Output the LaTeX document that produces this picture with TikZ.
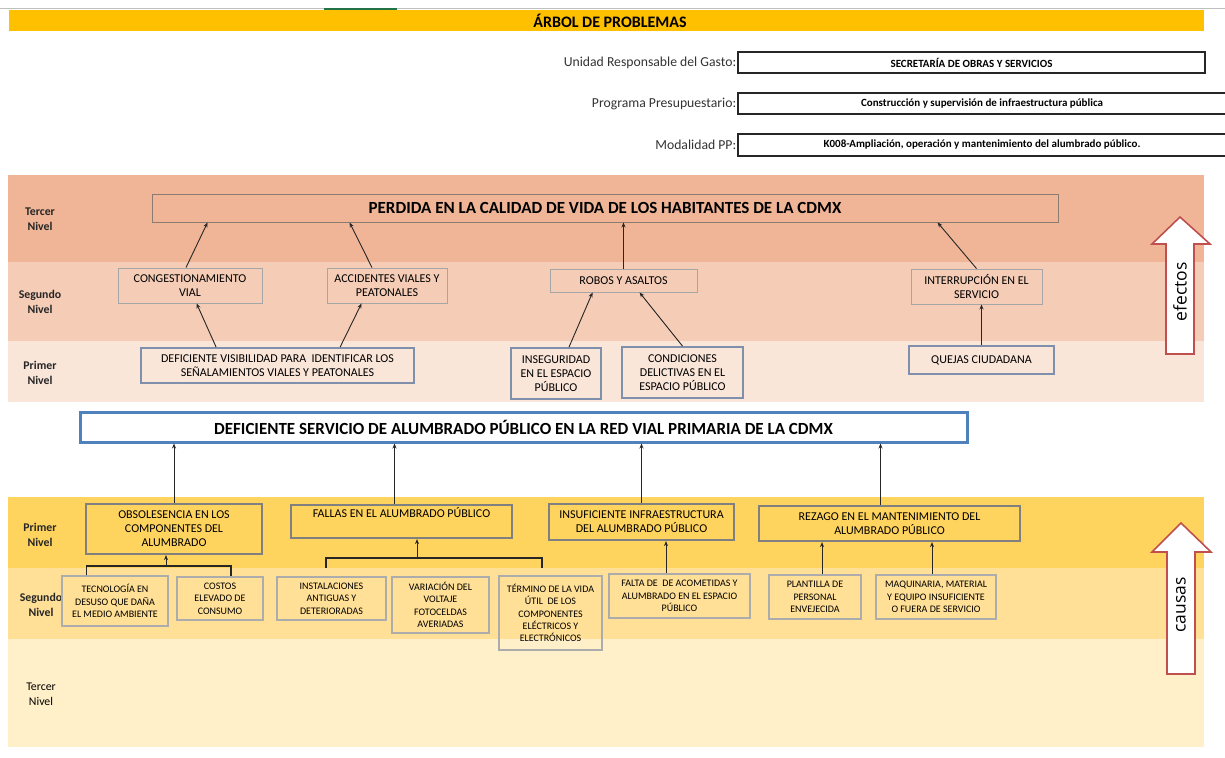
\documentclass[tikz,border=0pt]{standalone}
\usepackage{fontspec}
\setmainfont{Carlito}
\newfontfamily\flecha{Open Sans}
\usetikzlibrary{arrows.meta}
\definecolor{oro}{HTML}{FFC000}
\definecolor{verde}{HTML}{217346}
\definecolor{efTres}{HTML}{F0B597}
\definecolor{efDos}{HTML}{F5CCB6}
\definecolor{efUno}{HTML}{FAE5D9}
\definecolor{caUno}{HTML}{FFD45E}
\definecolor{caDos}{HTML}{FFE096}
\definecolor{caTres}{HTML}{FFF0CA}
\definecolor{azul}{HTML}{4F81BD}
\definecolor{bordeAzul}{HTML}{7E90AC}
\definecolor{cafe}{HTML}{8B7B70}
\definecolor{rojo}{HTML}{C0504D}

\begin{document}
\begin{tikzpicture}[x=1pt,y=-1pt,>={Stealth[length=5pt,width=4pt]},
    nivel/.style={align=center,font=\fontsize{11.8}{15}\selectfont\bfseries,text=black!85},
    campo/.style={anchor=east,inner sep=1pt,font=\fontsize{13.7}{16}\selectfont,text=black!80},
    dato/.style={draw=black!85,line width=1.2pt,inner sep=0pt,font=\fontsize{11}{12}\selectfont\bfseries},
    efecto/.style={draw=gray!70,line width=0.9pt,inner sep=0pt,align=center,font=\fontsize{12}{14}\selectfont},
    efectoA/.style={efecto,draw=bordeAzul,line width=1.8pt},
    causa/.style={draw=gray,line width=2.2pt,inner sep=0pt,align=center,font=\fontsize{12}{14}\selectfont},
    subcausa/.style={draw=gray!65,line width=1.1pt,inner sep=0pt,align=center,font=\fontsize{10}{12.3}\selectfont},
    flechota/.style={draw=rojo,line width=1.6pt,fill=white,line join=miter},
    conector/.style={->,line width=0.9pt,black!85},
    llave/.style={line width=1.3pt,black!85}]
        \useasboundingbox(0,0)rectangle(1225,757);
        \draw[gray!50,line width=0.8pt](0,8.5)--(1225,8.5);
        \draw[verde,line width=2pt](324,9)--(397,9);
        \fill[oro](9,10)rectangle(1204,31);
        \fill[efTres](8,175)rectangle(1204,262);
        \fill[efDos](8,262)rectangle(1204,341);
        \fill[efUno](8,341)rectangle(1204,402);
        \fill[caUno](8,497)rectangle(1204,568);
        \fill[caDos](8,568)rectangle(1204,639);
        \fill[caTres](8,639)rectangle(1204,747);
        \node(titulo)at(610,20.5)[font=\fontsize{16}{17}\selectfont\bfseries]{ÁRBOL DE PROBLEMAS};
        \node(ur)at(971.5,62.5)[dato,minimum width=467,minimum height=21]{SECRETARÍA DE OBRAS Y SERVICIOS};
        \node(urtxt)at(ur.west)[campo]{Unidad Responsable del Gasto:};
        \node(pp)at(982,103.5)[dato,minimum width=488,minimum height=21]{Construcción y supervisión de infraestructura pública};
        \node(pptxt)at(pp.west)[campo]{Programa Presupuestario:};
        \node(mod)at(982,145)[dato,minimum width=488,minimum height=22]{K008-Ampliación, operación y mantenimiento del alumbrado público.};
        \node(modtxt)at(mod.west)[campo]{Modalidad PP:};
        \node(et)at(40,219.5)[nivel]{Tercer\\Nivel};
        \node(es)at(40,302)[nivel]{Segundo\\Nivel};
        \node(ep)at(40,372.5)[nivel]{Primer\\Nivel};
        \node(cp)at(40,534.5)[nivel]{Primer\\Nivel};
        \node(cs)at(41,604.5)[nivel]{Segundo\\Nivel};
        \node(ct)at(41,694.5)[nivel,text=black,font=\fontsize{11.8}{15}\selectfont]{Tercer\\Nivel};
        \node(perdida)at(605,208)[efecto,draw=cafe,minimum width=906,minimum height=28,font=\fontsize{17}{18}\selectfont\bfseries]{PERDIDA EN LA CALIDAD DE VIDA DE LOS HABITANTES DE LA CDMX};
        \node(cong)at(190,285.5)[efecto,minimum width=144,minimum height=35]{CONGESTIONAMIENTO\\VIAL};
        \node(acc)at(387,285.5)[efecto,minimum width=120,minimum height=35]{ACCIDENTES VIALES Y\\PEATONALES};
        \node(robos)at(623.5,280.5)[efecto,minimum width=147,minimum height=23]{ROBOS Y ASALTOS};
        \node(interr)at(976.5,286.5)[efecto,minimum width=131,minimum height=35]{INTERRUPCIÓN EN EL\\SERVICIO};
        \node(defic)at(277.5,365.5)[efectoA,minimum width=273,minimum height=35]{DEFICIENTE VISIBILIDAD PARA\ \ IDENTIFICAR LOS\\SEÑALAMIENTOS VIALES Y PEATONALES};
        \node(inseg)at(556,373.5)[efectoA,minimum width=90,minimum height=51]{INSEGURIDAD\\EN EL ESPACIO\\PÚBLICO};
        \node(condic)at(682.5,372.5)[efectoA,minimum width=121,minimum height=51]{CONDICIONES\\DELICTIVAS EN EL\\ESPACIO PÚBLICO};
        \node(quejas)at(981.5,360)[efectoA,minimum width=145,minimum height=28]{QUEJAS CIUDADANA};
        \node(central)at(523.5,427)[draw=azul,line width=3pt,fill=white,inner sep=0pt,minimum width=887,minimum height=30,font=\fontsize{17}{18}\selectfont\bfseries]{DEFICIENTE SERVICIO DE ALUMBRADO PÚBLICO EN LA RED VIAL PRIMARIA DE LA CDMX};
        \node(obsol)at(174,529)[causa,minimum width=176,minimum height=50]{OBSOLESENCIA EN LOS\\COMPONENTES DEL\\ALUMBRADO};
        \node(fallas)at(401.5,521.5)[causa,minimum width=221,minimum height=33]{FALLAS EN EL ALUMBRADO PÚBLICO\\\strut};
        \node(insuf)at(641.5,522)[causa,minimum width=185,minimum height=36]{INSUFICIENTE INFRAESTRUCTURA\\DEL ALUMBRADO PÚBLICO};
        \node(rezago)at(889.5,523.5)[causa,minimum width=261,minimum height=35]{REZAGO EN EL MANTENIMIENTO DEL\\ALUMBRADO PÚBLICO};
        \node(tecno)at(115,601)[subcausa,minimum width=106,minimum height=50]{TECNOLOGÍA EN\\DESUSO QUE DAÑA\\EL MEDIO AMBIENTE};
        \node(costos)at(220,598.5)[subcausa,minimum width=86,minimum height=43]{COSTOS\\ELEVADO DE\\CONSUMO};
        \node(instal)at(331.5,598.5)[subcausa,minimum width=109,minimum height=43]{INSTALACIONES\\ANTIGUAS Y\\DETERIORADAS};
        \node(variac)at(440.5,605)[subcausa,minimum width=97,minimum height=56]{VARIACIÓN DEL\\VOLTAJE\\FOTOCELDAS\\AVERIADAS};
        \node(termino)at(550.5,613)[subcausa,minimum width=103,minimum height=74]{TÉRMINO DE LA VIDA\\ÚTIL\ \ DE LOS\\COMPONENTES\\ELÉCTRICOS Y\\ELECTRÓNICOS};
        \node(falta)at(679.5,596)[subcausa,minimum width=141,minimum height=44]{FALTA DE\ \ DE ACOMETIDAS Y\\ALUMBRADO EN EL ESPACIO\\PÚBLICO};
        \node(plant)at(815,597)[subcausa,minimum width=92,minimum height=44]{PLANTILLA DE\\PERSONAL\\ENVEJECIDA};
        \node(maq)at(936,597)[subcausa,minimum width=120,minimum height=44]{MAQUINARIA, MATERIAL\\Y EQUIPO INSUFICIENTE\\O FUERA DE SERVICIO};
        \coordinate(jobs)at(166,566);
        \coordinate(jfal)at(417,558);
        \coordinate(fizq)at(326,568);
        \coordinate(fder)at(542,568);
        \draw[conector]([xshift=-4pt]cong.north)--([xshift=56pt]perdida.south west);
        \draw[conector]([xshift=-15pt]acc.north)--([xshift=198pt]perdida.south west);
        \draw[conector](robos.north)--(robos.north|-perdida.south);
        \draw[conector](interr.north)--([xshift=786pt]perdida.south west);
        \draw[conector]([xshift=76pt]defic.north west)--([xshift=79pt]cong.south west);
        \draw[conector]([xshift=200pt]defic.north west)--([xshift=35pt]acc.south west);
        \draw[conector]([xshift=13pt]inseg.north)--([xshift=43pt]robos.south west);
        \draw[conector](condic.north)--([xshift=90pt]robos.south west);
        \draw[conector](quejas.north)--(quejas.north|-interr.south);
        \draw[conector](obsol.north)--(obsol.north|-central.south);
        \draw[conector]([xshift=-7pt]fallas.north)--([xshift=-7pt]fallas.north|-central.south);
        \draw[conector](insuf.north)--(insuf.north|-central.south);
        \draw[conector]([xshift=-9pt]rezago.north)--([xshift=-9pt]rezago.north|-central.south);
        \draw[llave]([xshift=25pt]tecno.north west)|-(jobs)-|([xshift=11pt]costos.north);
        \draw[conector](jobs)--(jobs|-obsol.south);
        \draw[llave](fizq)|-(jfal)-|(fder);
        \draw[conector](jfal)--(jfal|-fallas.south);
        \draw[conector]([xshift=-13.5pt]falta.north)--([xshift=-13.5pt]falta.north|-insuf.south);
        \draw[conector]([xshift=7pt]plant.north)--([xshift=7pt]plant.north|-rezago.south);
        \draw[conector]([xshift=-4pt]maq.north)--([xshift=-4pt]maq.north|-rezago.south);
        \draw[flechota](1180,217)--(1210,244)--(1194,244)--(1194,354)--(1166,354)--(1166,244)--(1152,244)--cycle;
        \node(efectos)at(1180,292)[rotate=90,font=\flecha\fontsize{17.5}{20}\selectfont]{efectos};
        \draw[flechota](1181,523)--(1211,552)--(1195,552)--(1195,674)--(1167,674)--(1167,552)--(1152,552)--cycle;
        \node(causas)at(1181,605)[rotate=90,font=\flecha\fontsize{17.5}{20}\selectfont]{causas};
    \end{tikzpicture}
\end{document}
